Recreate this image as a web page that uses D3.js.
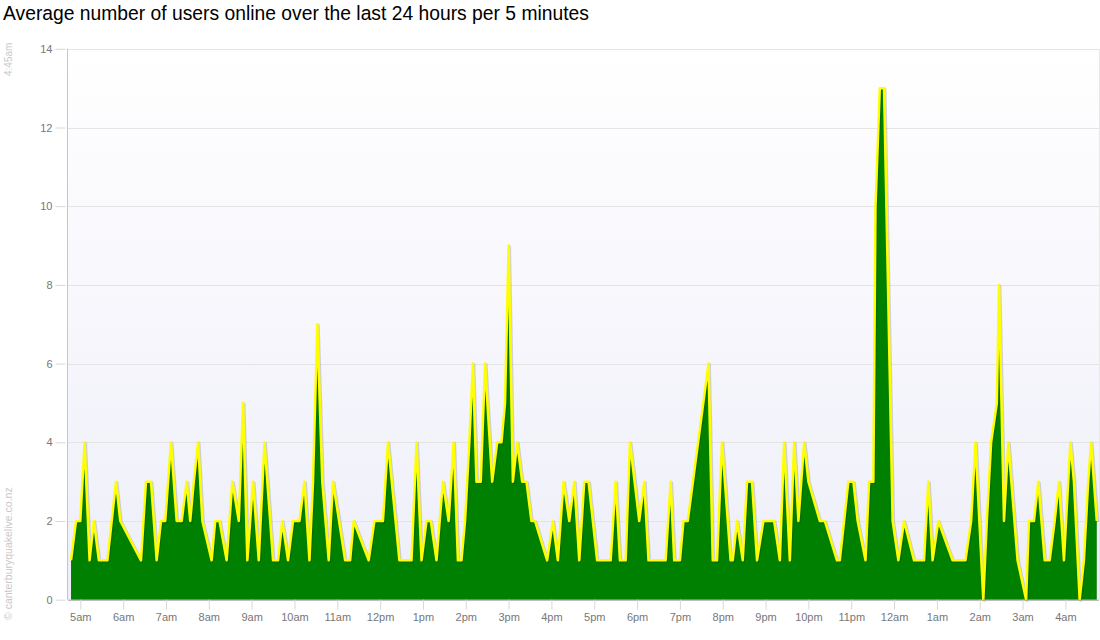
<!DOCTYPE html>
<html>
<head>
<meta charset="utf-8">
<script src="https://cdn.jsdelivr.net/npm/d3@7"></script>
<style>
  html, body { margin: 0; padding: 0; background: #ffffff; }
  svg { display: block; font-family: "Liberation Sans", Arial, sans-serif; }
</style>
</head>
<body>
<svg id="chart" width="1100" height="640"></svg>
<script>
// ---- data ----
const chartTitle = "Average number of users online over the last 24 hours per 5 minutes";
const generatedAt = "4:45am";
const credit = "© canterburyquakelive.co.nz";
// minutes after 4:45am
const minutes = [
  2, 9, 15, 21, 28, 34, 41, 53, 65, 71, 100, 107, 114, 122, 128, 134, 142,
  150, 157, 164, 169, 174, 180, 186, 199, 204, 210, 220, 228, 237, 243, 249, 257, 265, 273, 285,
  292, 298, 306, 313, 322, 329, 336, 341, 347, 354, 363, 369, 386, 393, 398, 419, 427,
  439, 446, 462, 479, 486, 493, 500, 506, 514, 523, 531, 538, 544, 549, 554, 560, 565, 570,
  576, 582, 592, 599, 605, 610, 615, 621, 627, 634, 640, 647, 652, 669, 677, 684, 692, 700, 707, 714,
  721, 727, 739, 758, 765, 771, 779, 785, 798, 805, 811, 835, 842, 847,
  855, 860, 866, 895, 901, 907, 914, 926, 929, 935, 943, 949, 956, 963, 972, 987, 995, 1001,
  1009, 1015, 1021, 1029, 1035, 1051, 1058, 1075, 1079, 1085, 1091, 1098, 1104, 1115, 1120, 1126, 1129, 1135, 1141, 1153,
  1161, 1169, 1183, 1197, 1203, 1209, 1217, 1237, 1255, 1263, 1269, 1280, 1285,
  1291, 1299, 1302, 1309, 1315, 1328, 1340, 1344, 1351, 1357, 1366, 1373, 1380, 1386, 1393, 1402, 1407, 1415, 1421, 1427, 1431, 1439
];
const users = [
  1, 2, 2, 4, 1, 2, 1, 1, 3, 2, 1, 3, 3, 1, 2, 2, 4,
  2, 2, 3, 2, 3, 4, 2, 1, 2, 2, 1, 3, 2, 5, 1, 3, 1, 4, 1,
  1, 2, 1, 2, 2, 3, 1, 3, 7, 3, 1, 3, 1, 1, 2, 1, 2,
  2, 4, 1, 1, 4, 1, 2, 2, 1, 3, 2, 4, 1, 1, 2, 4, 6, 3,
  3, 6, 3, 4, 4, 5, 9, 3, 4, 3, 3, 2, 2, 1, 2, 1, 3, 2, 3, 1,
  3, 3, 1, 1, 3, 1, 1, 4, 2, 3, 1, 1, 3, 1,
  1, 2, 2, 6, 1, 1, 4, 1, 1, 2, 1, 3, 3, 1, 2, 2, 1, 4,
  1, 4, 2, 4, 3, 2, 2, 1, 1, 2, 3, 3, 2, 1, 3, 3, 10, 13, 13, 2,
  1, 2, 1, 1, 3, 1, 2, 1, 1, 2, 4, 0, 2,
  4, 5, 8, 2, 4, 1, 0, 2, 2, 3, 1, 1, 2, 3, 1, 4, 3, 0, 1, 3, 4, 2
];
const yTickValues = [0, 2, 4, 6, 8, 10, 12, 14];

// ---- layout ----
const svg = d3.select("#chart");
const plot = { left: 68, right: 1099, top: 48.8, bottom: 599.7 };
const start = new Date(2012, 0, 1, 4, 45);
const end = d3.timeMinute.offset(start, 24 * 60);

const x = d3.scaleTime().domain([start, end]).range([69.6, 1097.5]);
const y = d3.scaleLinear().domain([0, 14]).range([plot.bottom, plot.top]);

const data = minutes.map((m, i) => ({ t: d3.timeMinute.offset(start, m), v: users[i] }));

// background gradient
const defs = svg.append("defs");
const grad = defs.append("linearGradient").attr("id", "bg").attr("x1", 0).attr("y1", 0).attr("x2", 0).attr("y2", 1);
grad.append("stop").attr("offset", "0%").attr("stop-color", "#ffffff");
grad.append("stop").attr("offset", "100%").attr("stop-color", "#eeeef9");

svg.append("rect").attr("x", plot.left).attr("y", plot.top)
  .attr("width", plot.right - plot.left).attr("height", plot.bottom - plot.top)
  .attr("fill", "url(#bg)");

// title
svg.append("text").attr("x", 3).attr("y", 20)
  .attr("font-size", 19.3).attr("fill", "#000")
  .text(chartTitle);

// rotated side texts
svg.append("text").attr("transform", "translate(12,76) rotate(-90)")
  .attr("font-size", 10).attr("fill", "#c8c8c8").text(generatedAt);
svg.append("text").attr("transform", "translate(12,620) rotate(-90)")
  .attr("font-size", 10.5).attr("fill", "#c8c8c8").text(credit);

// gridlines
svg.append("g").selectAll("line").data(yTickValues.filter(d => d > 0)).join("line")
  .attr("x1", plot.left).attr("x2", plot.right)
  .attr("y1", d => Math.round(y(d)) + 0.5).attr("y2", d => Math.round(y(d)) + 0.5)
  .attr("stroke", "#e4e4e4").attr("stroke-width", 1);

// right border
svg.append("line").attr("x1", plot.right + 0.5).attr("x2", plot.right + 0.5)
  .attr("y1", plot.top).attr("y2", plot.bottom).attr("stroke", "#e8e8e8");

// area + line
const area = d3.area().x(d => x(d.t)).y0(y(0)).y1(d => y(d.v));
const line = d3.line().x(d => x(d.t)).y(d => y(d.v));

svg.append("path").datum(data).attr("d", area).attr("fill", "#008000");
svg.append("path").datum(data).attr("d", line)
  .attr("fill", "none").attr("stroke", "#000").attr("stroke-opacity", 0.15)
  .attr("stroke-width", 3).attr("transform", "translate(1,1)").attr("stroke-linejoin", "round");
svg.append("path").datum(data).attr("d", line)
  .attr("fill", "none").attr("stroke", "#ffff00").attr("stroke-width", 2.5)
  .attr("stroke-linejoin", "round");

// y axis
const yAxis = d3.axisLeft(y).tickValues(yTickValues).tickSize(10).tickPadding(5).tickFormat(d3.format("d"));
const gy = svg.append("g").attr("transform", `translate(${plot.left - 0.5},0)`).call(yAxis);
gy.select(".domain").attr("stroke", "#c0c4d4").attr("stroke-width", 1).attr("d", `M0,${plot.top}V${plot.bottom}`);
gy.selectAll(".tick line").attr("stroke", "#d8d8d8").attr("transform", "translate(-2,0)");
gy.selectAll(".tick text").attr("fill", "#777").attr("font-size", 11).attr("font-family", "Liberation Sans, Arial, sans-serif");

// x axis
const fmt = d3.timeFormat("%-I%p");
const xAxis = d3.axisBottom(x).ticks(d3.timeHour.every(1)).tickSize(10).tickPadding(4)
  .tickFormat(d => fmt(d).toLowerCase());
const gx = svg.append("g").attr("transform", `translate(0,${plot.bottom})`).call(xAxis);
gx.select(".domain").attr("stroke", "#a0a0a0").attr("d", `M${plot.left},0.5H${plot.right}`);
gx.selectAll(".tick line").attr("stroke", "#d8d8d8");
gx.selectAll(".tick text").attr("fill", "#777").attr("font-size", 11).attr("font-family", "Liberation Sans, Arial, sans-serif");
</script>
</body>
</html>
